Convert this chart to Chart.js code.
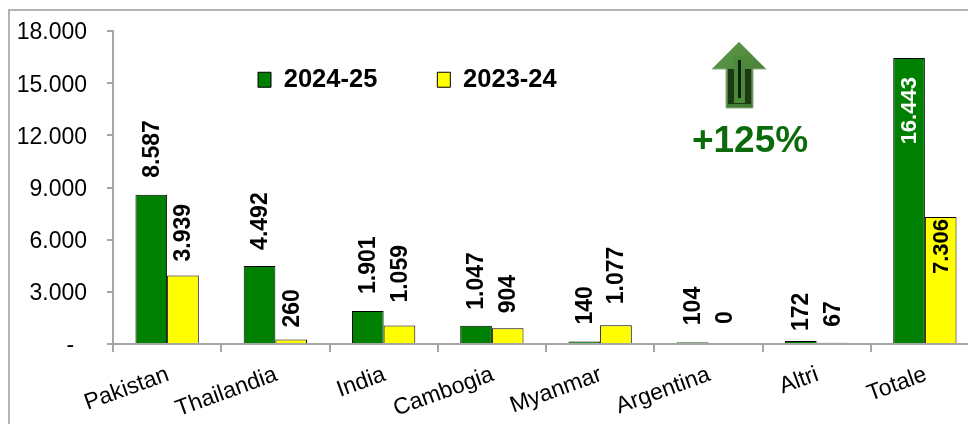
<!DOCTYPE html>
<html>
<head>
<meta charset="utf-8">
<script src="https://cdn.jsdelivr.net/npm/chart.js@4"></script>
<style>
html,body{margin:0;padding:0;background:#fff;width:968px;height:424px;overflow:hidden}
canvas{display:block}
</style>
</head>
<body>
<canvas id="c" width="979" height="424" style="width:979px;height:424px"></canvas>
<script>
const categories = ["Pakistan","Thailandia","India","Cambogia","Myanmar","Argentina","Altri","Totale"];
const series2425 = [8587,4492,1901,1047,140,104,172,16443];
const series2324 = [3939,260,1059,904,1077,0,67,7306];
const seriesNames = ["2024-25","2023-24"];
const badgeText = "+125%";

const FONT = '"Liberation Sans", Arial, sans-serif';
const fmt = v => v === 0 ? "-\u00A0\u00A0" : String(v).replace(/\B(?=(\d{3})+$)/g, ".");

// Hand-placed value-label clearances of the original (px above bar top; negative = inside)
const labelClearance = [
  [18,17,18,17,18,18,11,-19],
  [15,13,24,16,22,21,17,-2]
];

const decor = {
  id: "decor",
  beforeLayout(chart) {
    const l = chart.legend;
    if (!l._flat) {
      const f = l.fit;
      l.fit = function () { f.call(this); this.height = 0; };
      l._flat = true;
    }
  },
  afterLayout(chart) {
    const l = chart.legend;
    l.left = 198; l.right = 700; l.top = 7; l.bottom = 100;
  },
  beforeDraw(chart) {
    const c = chart.ctx;
    c.save();
    c.strokeStyle = "#b4b4b4"; c.lineWidth = 2;
    c.strokeRect(9, 10, 1100, 600);
    c.restore();
  },
  afterDatasetsDraw(chart) {
    const c = chart.ctx;
    chart.data.datasets.forEach((ds, di) => {
      const meta = chart.getDatasetMeta(di);
      meta.data.forEach((bar, i) => {
        const last = i === categories.length - 1;
        const t = String(ds.data[i]).replace(/\B(?=(\d{3})+$)/g, ".");
        const gap = labelClearance[di][i];
        c.save();
        c.translate(bar.x, bar.y);
        c.rotate(-Math.PI / 2);
        c.font = "bold " + (last ? 22 : 23) + "px " + FONT;
        c.textBaseline = "middle";
        if (last) {
          c.textAlign = "right";
          c.fillStyle = di === 0 ? "#ffffff" : "#000000";
          c.fillText(t, gap, 1);
        } else {
          c.textAlign = "left";
          c.fillStyle = "#000000";
          c.fillText(t, gap - 1, 1);
        }
        c.restore();
      });
    });

    // arrow badge
    const p = [[739,42],[766,69],[753,69],[753,108],[726,108],[726,69],[712,69]];
    c.save();
    c.beginPath();
    p.forEach((q, i) => i ? c.lineTo(q[0], q[1]) : c.moveTo(q[0], q[1]));
    c.closePath();
    const g = c.createLinearGradient(712, 42, 766, 108);
    g.addColorStop(0, "#5f9a48");
    g.addColorStop(1, "#3c7430");
    c.fillStyle = g; c.fill();
    c.strokeStyle = "#8fae84"; c.lineWidth = 1; c.stroke();
    c.fillStyle = "#1c3a14";
    c.fillRect(728, 69, 23, 35);
    c.fillStyle = "#4a8a38";
    c.fillRect(734, 56, 11, 47);
    c.fillStyle = "#0e1f0a";
    c.fillRect(738, 60, 3, 38);
    c.font = "bold 37px " + FONT;
    c.textAlign = "center";
    c.textBaseline = "alphabetic";
    c.fillStyle = "#0b6b0b";
    c.fillText(badgeText, 750, 152);
    c.restore();
  }
};

new Chart(document.getElementById("c"), {
  type: "bar",
  data: {
    labels: categories,
    datasets: [
      { label: seriesNames[0], data: series2425, backgroundColor: "#008000", borderColor: "#000000", borderWidth: 1 },
      { label: seriesNames[1], data: series2324, backgroundColor: "#ffff00", borderColor: "#000000", borderWidth: 1 }
    ]
  },
  options: {
    responsive: false,
    animation: false,
    devicePixelRatio: 1,
    layout: { padding: { top: 31, right: 0, left: 0, bottom: 0 } },
    datasets: { bar: { categoryPercentage: 0.585, barPercentage: 1 } },
    plugins: {
      tooltip: { enabled: false },
      title: { display: false },
      legend: {
        display: true,
        position: "top",
        align: "start",
        labels: {
          boxWidth: 13, boxHeight: 15, padding: 60,
          color: "#000000",
          font: { family: FONT, size: 25.5, weight: "bold" }
        }
      }
    },
    scales: {
      x: {
        grid: { display: true, offset: true, drawOnChartArea: false, color: "#a6a6a6", lineWidth: 2, tickLength: 8 },
        border: { color: "#a6a6a6", width: 2 },
        ticks: { color: "#000", font: { family: FONT, size: 23 }, minRotation: 20, maxRotation: 20, padding: 9, labelOffset: 1, autoSkip: false },
        afterFit(s) { s.height = 80; }
      },
      y: {
        min: 0, max: 18000,
        grid: { display: true, drawOnChartArea: false, color: "#a6a6a6", lineWidth: 2, tickLength: 6 },
        border: { color: "#a6a6a6", width: 2 },
        ticks: { stepSize: 3000, color: "#000", font: { family: FONT, size: 23 }, padding: 20, labelOffset: 2, callback: v => fmt(v) },
        afterFit(s) { s.width = 113; s.paddingTop = 0; s.paddingBottom = 0; }
      }
    }
  },
  plugins: [decor]
});
</script>
</body>
</html>
